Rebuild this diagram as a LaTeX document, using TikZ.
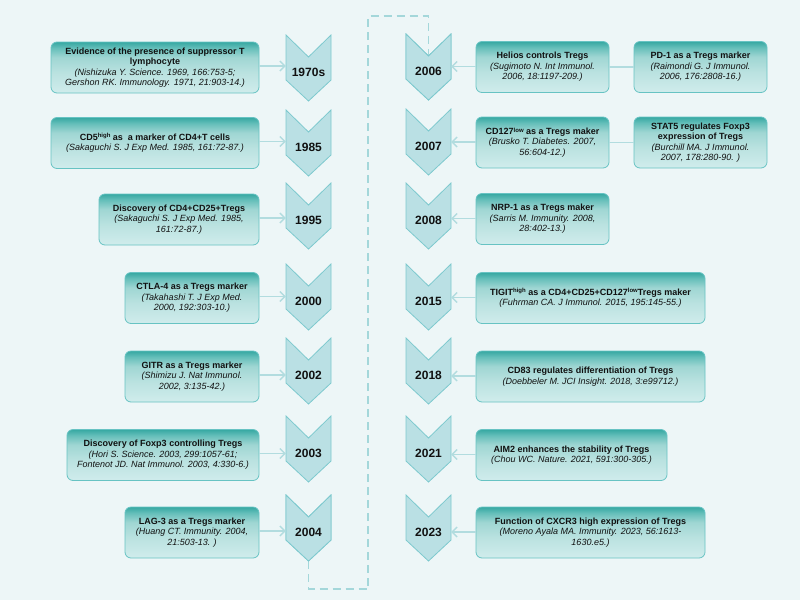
\documentclass[tikz,border=0pt]{standalone}
\usepackage{fontspec}
\setmainfont{Liberation Sans}
\usetikzlibrary{arrows.meta}
\definecolor{bgc}{HTML}{EDF6F7}
\definecolor{boxtop}{HTML}{36A8A2}
\definecolor{boxup}{HTML}{66BFBA}
\definecolor{boxmid}{HTML}{9FD6D3}
\definecolor{boxlow}{HTML}{BAE2E0}
\definecolor{boxbot}{HTML}{D0ECEC}
\definecolor{boxline}{HTML}{67C3C3}
\definecolor{chevfill}{HTML}{BAE0E4}
\definecolor{chevline}{HTML}{7DC9CE}
\definecolor{arrc}{HTML}{B2DCDF}
\definecolor{dashc}{HTML}{A4D7DA}
\definecolor{txt}{HTML}{111111}
\pgfdeclareverticalshading{boxshade}{100bp}{color(0bp)=(boxbot); color(25bp)=(boxbot); color(45bp)=(boxlow); color(60bp)=(boxmid); color(69bp)=(boxup); color(75bp)=(boxtop); color(100bp)=(boxtop)}
\tikzset{
  evt/.style={shade, shading=boxshade, draw=boxline, line width=0.8pt, rounded corners=6pt,
    align=center, text=txt, font=\fontsize{9}{10.5}\selectfont, minimum height=51pt, inner sep=2pt},
  chev/.style={fill=chevfill, draw=chevline, line width=0.8pt, line join=miter},
  yearlbl/.style={font=\fontsize{12}{13}\selectfont\bfseries, text=txt, minimum width=45pt, minimum height=10pt, inner sep=0pt},
  arr/.style={draw=arrc, line width=1.5pt, -{Straight Barb[length=5pt,width=10pt,line width=1.3pt]}},
  link/.style={draw=arrc, line width=1.5pt},
  dashln/.style={draw=dashc, line width=1.3pt, dash pattern=on 8pt off 5pt}
}
\newcommand\mychev[4]{%
  \draw[chev] (#2,#3) -- ++(22.5,22) -- ++(22.5,-22) -- ++(0,45) -- ++(-22.5,21) -- ++(-22.5,-21) -- cycle;
  \node[yearlbl] (#1) at (#2+22.5,#3+37) {#4};
  \coordinate (#1-tip) at (#2+22.5,#3+66);
  \coordinate (#1-notch) at (#2+22.5,#3+22);
}
\newcommand\ttl[1]{\textbf{#1}}
\newcommand\cit[1]{\textit{#1}}
\newcommand\sups[1]{\raisebox{2.2pt}{\fontsize{6}{6}\selectfont #1}}
\begin{document}
\begin{tikzpicture}[x=1pt,y=-1pt]
\fill[bgc] (0,0) rectangle (800,600);
\useasboundingbox (0,0) rectangle (800,600);

% dashed connector between columns
\mychev{c7}{286}{495}{2004}
\mychev{d1}{406}{34}{2006}
\coordinate (dA) at (308.5,589);
\coordinate (dB) at (368,589);
\coordinate (dC) at (368,16);
\coordinate (dD) at (428.5,16);
\draw[dashln] (c7-tip) -- (dA) -- (dB) -- (dC) -- (dD) -- (d1-notch);
\mychev{c7}{286}{495}{2004}
\mychev{d1}{406}{34}{2006}

% left chevrons
\mychev{c1}{286}{35}{1970s}
\mychev{c2}{286}{110}{1985}
\mychev{c3}{286}{183}{1995}
\mychev{c4}{286}{264}{2000}
\mychev{c5}{286}{338}{2002}
\mychev{c6}{286}{416}{2003}

% right chevrons
\mychev{d2}{406}{109}{2007}
\mychev{d3}{406}{183}{2008}
\mychev{d4}{406}{264}{2015}
\mychev{d5}{406}{338}{2018}
\mychev{d6}{406}{416}{2021}
\mychev{d7}{406}{495}{2023}

% left boxes
\node[evt, minimum width=208pt] (b1) at (155,67.5) {\ttl{Evidence of the presence of suppressor T}\\\ttl{lymphocyte}\\\cit{(Nishizuka Y. Science. 1969, 166:753-5;}\\\cit{Gershon RK. Immunology. 1971, 21:903-14.)}};
\node[evt, minimum width=208pt] (b2) at (155,143) {\ttl{CD5\sups{high} as\ \ a marker of CD4+T cells}\\\cit{(Sakaguchi S. J Exp Med. 1985, 161:72-87.)}};
\node[evt, minimum width=160pt] (b3) at (179,219.5) {\ttl{Discovery of CD4+CD25+Tregs}\\\cit{(Sakaguchi S. J Exp Med. 1985,}\\\cit{161:72-87.)}};
\node[evt, minimum width=134pt] (b4) at (192,298) {\ttl{CTLA-4 as a Tregs marker}\\\cit{(Takahashi T. J Exp Med.}\\\cit{2000, 192:303-10.)}};
\node[evt, minimum width=134pt] (b5) at (192,376.5) {\ttl{GITR as a Tregs marker}\\\cit{(Shimizu J. Nat Immunol.}\\\cit{2002, 3:135-42.)}};
\node[evt, minimum width=192pt] (b6) at (163,455) {\ttl{Discovery of Foxp3 controlling Tregs}\\\cit{(Hori S. Science. 2003, 299:1057-61;}\\\cit{Fontenot JD. Nat Immunol. 2003, 4:330-6.)}};
\node[evt, minimum width=134pt] (b7) at (192,532.5) {\ttl{LAG-3 as a Tregs marker}\\\cit{(Huang CT. Immunity. 2004,}\\\cit{21:503-13. )}};

% right boxes
\node[evt, minimum width=133pt] (r1) at (542.5,67) {\ttl{Helios controls Tregs}\\\cit{(Sugimoto N. Int Immunol.}\\\cit{2006, 18:1197-209.)}};
\node[evt, minimum width=133pt] (s1) at (700.5,67) {\ttl{PD-1 as a Tregs marker}\\\cit{(Raimondi G. J Immunol.}\\\cit{2006, 176:2808-16.)}};
\node[evt, minimum width=133pt] (r2) at (542.5,142.5) {\ttl{CD127\sups{low} as a Tregs maker}\\\cit{(Brusko T. Diabetes. 2007,}\\\cit{56:604-12.)}};
\node[evt, minimum width=133pt] (s2) at (700.5,142.5) {\ttl{STAT5 regulates Foxp3}\\\ttl{expression of Tregs}\\\cit{(Burchill MA. J Immunol.}\\\cit{2007, 178:280-90. )}};
\node[evt, minimum width=133pt] (r3) at (542.5,219) {\ttl{NRP-1 as a Tregs maker}\\\cit{(Sarris M. Immunity. 2008,}\\\cit{28:402-13.)}};
\node[evt, minimum width=229pt] (r4) at (590.5,298) {\ttl{TIGIT\sups{high} as a CD4+CD25+CD127\sups{low}Tregs maker}\\\cit{(Fuhrman CA. J Immunol. 2015, 195:145-55.)}};
\node[evt, minimum width=229pt] (r5) at (590.5,376.5) {\ttl{CD83 regulates differentiation of Tregs}\\\cit{(Doebbeler M. JCI Insight. 2018, 3:e99712.)}};
\node[evt, minimum width=191pt] (r6) at (571.5,455) {\ttl{AIM2 enhances the stability of Tregs}\\\cit{(Chou WC. Nature. 2021, 591:300-305.)}};
\node[evt, minimum width=229pt] (r7) at (590.5,532.5) {\ttl{Function of CXCR3 high expression of Tregs}\\\cit{(Moreno Ayala MA. Immunity. 2023, 56:1613-}\\\cit{1630.e5.)}};

% arrows left
\foreach \i in {1,...,7} {
  \draw[arr] ([yshift=1.5pt]b\i.east) -- ([yshift=1.5pt]b\i.east -| c\i.west);
}
% arrows right
\foreach \i in {1,...,7} {
  \draw[arr] ([yshift=0.5pt]r\i.west) -- ([yshift=0.5pt]r\i.west -| d\i.east);
}
\draw[link] (s1.west) -- (r1.east);
\draw[link] (s2.west) -- (r2.east);
\end{tikzpicture}
\end{document}
